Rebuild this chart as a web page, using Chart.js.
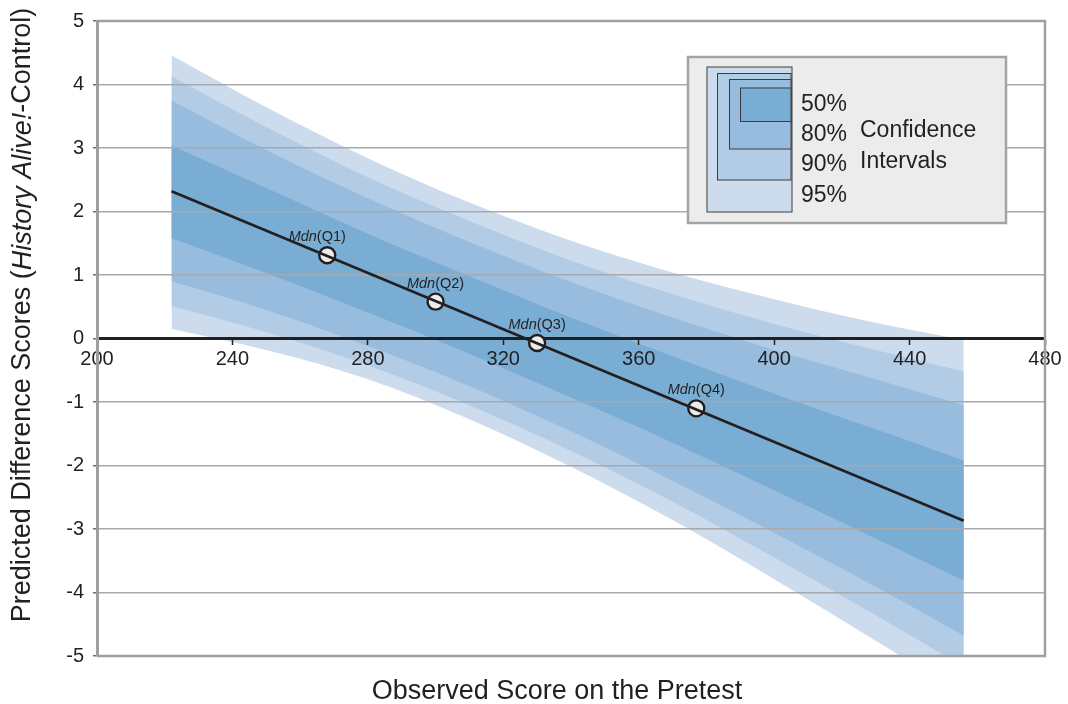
<!DOCTYPE html>
<html>
<head>
<meta charset="utf-8">
<script src="https://cdn.jsdelivr.net/npm/chart.js@4.4.1/dist/chart.umd.min.js"></script>
<style>
  html, body { margin: 0; padding: 0; background: #ffffff; }
  #wrap { width: 1068px; height: 704px; position: relative; }
</style>
</head>
<body>
<div id="wrap"><canvas id="chart" width="1068" height="704"></canvas></div>
<script>
// Pretest scores at which the interval bounds are given
const pretestScores = [222, 250, 280, 310, 340, 370, 400, 430, 456];

// Interval bounds for the predicted difference (History Alive! - Control)
const upper95 = [4.46, 3.64, 2.84, 2.14, 1.54, 1.04, 0.62, 0.25, -0.02];
const upper90 = [4.13, 3.33, 2.54, 1.85, 1.23, 0.70, 0.23, -0.18, -0.52];
const upper80 = [3.75, 2.97, 2.21, 1.52, 0.89, 0.33, -0.18, -0.64, -1.05];
const upper50 = [3.04, 2.37, 1.65, 0.98, 0.33, -0.28, -0.87, -1.43, -1.92];
const lower50 = [1.58, 1.03, 0.41, -0.24, -0.93, -1.64, -2.39, -3.15, -3.81];
const lower80 = [0.90, 0.45, -0.12, -0.75, -1.46, -2.24, -3.06, -3.91, -4.68];
const lower90 = [0.51, 0.10, -0.42, -1.05, -1.77, -2.57, -3.45, -4.36, -5.17];
const lower95 = [0.15, -0.18, -0.64, -1.27, -2.02, -2.86, -3.79, -4.76, -5.61];

// Fitted line end points
const fitX = [222, 456];
const fitY = [2.32, -2.87];

// Quartile medians of the pretest score
const medianX = [268, 300, 330, 377];
const medianY = [1.31, 0.58, -0.07, -1.10];
const medianNames = ['Q1', 'Q2', 'Q3', 'Q4'];

// Axis tick labels
const xTickValues = [200, 240, 280, 320, 360, 400, 440, 480];
const yTickValues = [-5, -4, -3, -2, -1, 0, 1, 2, 3, 4, 5];

// Legend entries
const intervalNames = ['50%', '80%', '90%', '95%'];

const FONT = '"Liberation Sans", Arial, Helvetica, sans-serif';
const INK = '#231f20';
const FRAME = '#9d9fa2';
const GRID = '#a7a9ac';
const BAND = { '95%': '#cddcec', '90%': '#b3cce5', '80%': '#97bcdd', '50%': '#79add4' };

function pairs(xs, ys) {
  return xs.map((x, i) => ({ x: x, y: ys[i] }));
}

function bandEdge(values, color, fill) {
  return {
    data: pairs(pretestScores, values),
    borderWidth: 0,
    borderColor: 'transparent',
    backgroundColor: color,
    pointRadius: 0,
    pointHoverRadius: 0,
    fill: fill,
    cubicInterpolationMode: 'monotone'
  };
}

// Draws a run of text pieces with different fonts, centred on (cx, cy)
function drawRich(ctx, parts, cx, cy) {
  let total = 0;
  parts.forEach(p => { ctx.font = p.font; p.w = ctx.measureText(p.text).width; total += p.w; });
  let x = cx - total / 2;
  ctx.textAlign = 'left';
  ctx.textBaseline = 'middle';
  parts.forEach(p => { ctx.font = p.font; ctx.fillText(p.text, x, cy); x += p.w; });
}

const decorations = {
  id: 'decorations',
  afterDatasetsDraw(chart) {
    const ctx = chart.ctx;
    const meta = chart.getDatasetMeta(9);
    const shift = [-10, 0, 0, 0];
    ctx.save();
    ctx.fillStyle = INK;
    meta.data.forEach((pt, i) => {
      drawRich(ctx, [
        { text: 'Mdn', font: 'italic 14.5px ' + FONT },
        { text: '(' + medianNames[i] + ')', font: '14.5px ' + FONT }
      ], pt.x + shift[i], pt.y - 18);
    });
    ctx.restore();
  },
  afterDraw(chart) {
    const ctx = chart.ctx;
    const a = chart.chartArea;
    ctx.save();

    // frame on the top, right and bottom of the plot area
    ctx.strokeStyle = FRAME;
    ctx.lineWidth = 2.5;
    ctx.beginPath();
    ctx.moveTo(a.left, a.top);
    ctx.lineTo(a.right, a.top);
    ctx.lineTo(a.right, a.bottom);
    ctx.lineTo(a.left, a.bottom);
    ctx.stroke();

    // legend box
    ctx.fillStyle = '#ececec';
    ctx.fillRect(688, 57, 318, 166);
    ctx.strokeStyle = '#a3a3a3';
    ctx.lineWidth = 2.5;
    ctx.strokeRect(688, 57, 318, 166);

    const boxes = [
      { name: '95%', x: 707, y: 67, w: 85, h: 145 },
      { name: '90%', x: 717.5, y: 73.5, w: 73.5, h: 106.5 },
      { name: '80%', x: 729.5, y: 79.5, w: 61.5, h: 69.5 },
      { name: '50%', x: 740.5, y: 88, w: 50.5, h: 33.5 }
    ];
    ctx.lineWidth = 1;
    ctx.strokeStyle = '#3c3c3c';
    boxes.forEach(b => {
      ctx.fillStyle = BAND[b.name];
      ctx.fillRect(b.x, b.y, b.w, b.h);
      ctx.strokeRect(b.x, b.y, b.w, b.h);
    });

    ctx.fillStyle = INK;
    ctx.font = '23px ' + FONT;
    ctx.textAlign = 'left';
    ctx.textBaseline = 'middle';
    const rows = [105, 135, 165, 196];
    intervalNames.forEach((t, i) => ctx.fillText(t, 801, rows[i]));
    ctx.fillText('Confidence', 860, 131);
    ctx.fillText('Intervals', 860, 162);

    // axis titles
    drawRich(ctx, [{ text: 'Observed Score on the Pretest', font: '27px ' + FONT }], 557, 692);
    ctx.translate(23, 315);
    ctx.rotate(-Math.PI / 2);
    drawRich(ctx, [
      { text: 'Predicted Difference Scores (', font: '27px ' + FONT },
      { text: 'History Alive!', font: 'italic 27px ' + FONT },
      { text: '-Control)', font: '27px ' + FONT }
    ], 0, 0);
    ctx.restore();
  }
};

const datasets = [
  bandEdge(upper50, BAND['50%'], '+1'),
  bandEdge(lower50, BAND['50%'], false),
  bandEdge(upper80, BAND['80%'], '+1'),
  bandEdge(lower80, BAND['80%'], false),
  bandEdge(upper90, BAND['90%'], '+1'),
  bandEdge(lower90, BAND['90%'], false),
  bandEdge(upper95, BAND['95%'], '+1'),
  bandEdge(lower95, BAND['95%'], false),
  {
    data: pairs(fitX, fitY),
    borderColor: INK,
    borderWidth: 2.6,
    pointRadius: 0,
    fill: false
  },
  {
    data: pairs(medianX, medianY),
    showLine: false,
    pointRadius: 8,
    pointBackgroundColor: '#ececec',
    pointBorderColor: INK,
    pointBorderWidth: 2.4,
    fill: false
  }
];

new Chart(document.getElementById('chart'), {
  type: 'line',
  data: { datasets: datasets },
  options: {
    responsive: false,
    animation: false,
    events: [],
    devicePixelRatio: 1,
    layout: { padding: { left: 0, right: 23, top: 20, bottom: 48 } },
    plugins: {
      legend: { display: false },
      tooltip: { enabled: false },
      filler: { drawTime: 'beforeDraw' }
    },
    scales: {
      x: {
        type: 'linear',
        position: { y: 0 },
        min: 200,
        max: 480,
        afterBuildTicks: s => { s.ticks = xTickValues.map(v => ({ value: v })); },
        ticks: {
          autoSkip: false,
          maxRotation: 0,
          padding: 4,
          color: INK,
          font: { family: FONT, size: 20 },
          callback: v => String(v)
        },
        grid: {
          drawOnChartArea: false,
          drawTicks: true,
          tickLength: 5,
          tickColor: INK,
          tickWidth: 1.5
        },
        border: { display: true, color: INK, width: 3 }
      },
      y: {
        type: 'linear',
        min: -5,
        max: 5,
        afterFit: s => { s.width = 97; },
        afterBuildTicks: s => { s.ticks = yTickValues.map(v => ({ value: v })); },
        ticks: {
          padding: 9,
          color: INK,
          font: { family: FONT, size: 20 },
          callback: v => String(v)
        },
        grid: {
          color: GRID,
          lineWidth: 1.5,
          drawTicks: true,
          tickLength: 4,
          tickColor: '#6d6e71',
          tickWidth: 1.5
        },
        border: { display: true, color: FRAME, width: 3 }
      }
    }
  },
  plugins: [decorations]
});
</script>
</body>
</html>
